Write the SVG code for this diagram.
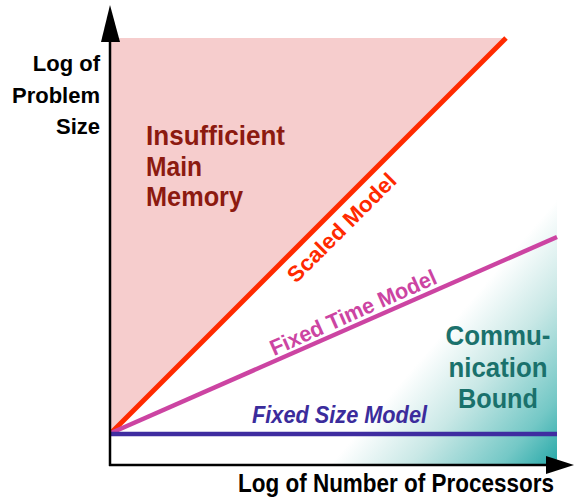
<svg xmlns="http://www.w3.org/2000/svg" width="574" height="501" viewBox="0 0 574 501">
<style>
text{font-family:"Liberation Sans",Arial,sans-serif;font-weight:bold}
.ax{font-size:22px;fill:#000}
.mem{font-size:27px;fill:#8c1a10}
.com{font-size:27px;fill:#1a716c;text-anchor:middle}
</style>
<defs>
<linearGradient id="teal" gradientUnits="userSpaceOnUse" x1="426" y1="353" x2="557" y2="465">
<stop offset="0" stop-color="#ffffff"/>
<stop offset="0.35" stop-color="#c9e8e6"/>
<stop offset="0.75" stop-color="#74c8c6"/>
<stop offset="1" stop-color="#26a8a8"/>
</linearGradient>
</defs>
<rect width="574" height="501" fill="#ffffff"/>
<g id="communication-bound">
<rect x="300" y="200" width="257" height="265" fill="url(#teal)"/>
<text class="com" x="498" y="345" textLength="105" lengthAdjust="spacingAndGlyphs">Commu-</text>
<text class="com" x="498" y="377" textLength="99" lengthAdjust="spacingAndGlyphs">nication</text>
<text class="com" x="498" y="408" textLength="80" lengthAdjust="spacingAndGlyphs">Bound</text>
</g>
<g id="insufficient-memory">
<polygon points="111,38 506,38 111,433" fill="#f6cdcd"/>
<text class="mem" x="146" y="145" textLength="139" lengthAdjust="spacingAndGlyphs">Insufficient</text>
<text class="mem" x="146" y="176" textLength="56" lengthAdjust="spacingAndGlyphs">Main</text>
<text class="mem" x="146" y="206" textLength="97" lengthAdjust="spacingAndGlyphs">Memory</text>
</g>
<g id="connectors" stroke-linecap="butt">
<line id="scaled" x1="111" y1="433" x2="506" y2="38" stroke="#ff2a00" stroke-width="5"/>
<line id="fixed-time" x1="111" y1="433" x2="557" y2="237" stroke="#cc44a2" stroke-width="4.5"/>
<line id="fixed-size" x1="111" y1="434" x2="557" y2="434" stroke="#3f2ca0" stroke-width="4.5"/>
</g>
<g id="labels">
<text transform="translate(296,284) rotate(-45)" font-size="22" fill="#ff2a00" textLength="144" lengthAdjust="spacingAndGlyphs">Scaled Model</text>
<text transform="translate(274,356) rotate(-24)" font-size="22" fill="#cc44a2" textLength="180" lengthAdjust="spacingAndGlyphs">Fixed Time Model</text>
<text x="252" y="423" font-size="24" font-style="italic" fill="#3b2c9c" textLength="175" lengthAdjust="spacingAndGlyphs">Fixed Size Model</text>
</g>
<g id="axes">
<line x1="110" y1="40" x2="110" y2="466" stroke="#000" stroke-width="2.5"/>
<polygon points="110,5 101,42 120,42" fill="#000"/>
<line x1="109" y1="465" x2="548" y2="465" stroke="#000" stroke-width="2.5"/>
<polygon points="574,465 546,456 546,474" fill="#000"/>
<text class="ax" x="100" y="71" text-anchor="end">Log of</text>
<text class="ax" x="100" y="103" text-anchor="end">Problem</text>
<text class="ax" x="100" y="134" text-anchor="end">Size</text>
<text transform="translate(238,492) scale(0.865,1)" font-size="26" fill="#000">Log of Number of Processors</text>
</g>
</svg>
